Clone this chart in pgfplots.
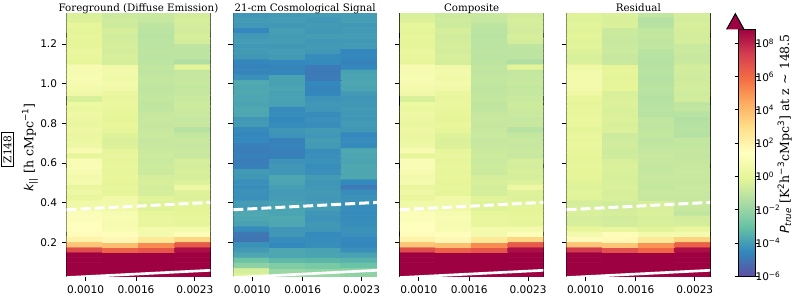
\documentclass[border=0pt]{standalone}
\usepackage{fontspec}
\setmainfont{DejaVu Serif}
\setsansfont{DejaVu Sans}
\usepackage{pgfplots}
\usepackage{pgfplotstable}
\pgfplotsset{compat=1.18}

\definecolor{cbmax}{RGB}{158,1,66}

% Foreground (also used for Composite, visually identical)
\pgfplotstableread[row sep=\\]{
x y c\\
0.988 0.0327 8.85\\1.415 0.0327 8.85\\1.842 0.0327 8.85\\2.269 0.0327 8.85\\
0.988 0.0590 8.85\\1.415 0.0590 8.85\\1.842 0.0590 8.85\\2.269 0.0590 8.85\\
0.988 0.0853 8.85\\1.415 0.0853 8.85\\1.842 0.0853 8.85\\2.269 0.0853 8.85\\
0.988 0.1116 8.85\\1.415 0.1116 8.85\\1.842 0.1116 8.85\\2.269 0.1116 8.85\\
0.988 0.1379 8.85\\1.415 0.1379 8.85\\1.842 0.1379 8.85\\2.269 0.1379 8.85\\
0.988 0.1642 6.9\\1.415 0.1642 6.3\\1.842 0.1642 6.6\\2.269 0.1642 8.5\\
0.988 0.1905 3.7\\1.415 0.1905 3.9\\1.842 0.1905 5.2\\2.269 0.1905 6.5\\
0.988 0.2168 2.05\\1.415 0.2168 1.75\\1.842 0.2168 2.5\\2.269 0.2168 3.2\\
0.988 0.2431 1.55\\1.415 0.2431 1.5\\1.842 0.2431 0.75\\2.269 0.2431 1.2\\
0.988 0.2694 1.45\\1.415 0.2694 0.95\\1.842 0.2694 0.7\\2.269 0.2694 0.7\\
0.988 0.2957 1.35\\1.415 0.2957 0.9\\1.842 0.2957 0.1\\2.269 0.2957 0.0\\
0.988 0.3220 1.2\\1.415 0.3220 0.95\\1.842 0.3220 0.15\\2.269 0.3220 0.05\\
0.988 0.3483 1.15\\1.415 0.3483 0.85\\1.842 0.3483 0.05\\2.269 0.3483 -0.05\\
0.988 0.3746 0.6\\1.415 0.3746 0.6\\1.842 0.3746 -0.2\\2.269 0.3746 -0.1\\
0.988 0.4009 0.55\\1.415 0.4009 0.55\\1.842 0.4009 -0.25\\2.269 0.4009 -0.15\\
0.988 0.4272 0.1\\1.415 0.4272 0.6\\1.842 0.4272 -0.15\\2.269 0.4272 -0.3\\
0.988 0.4535 0.4\\1.415 0.4535 0.0\\1.842 0.4535 -0.5\\2.269 0.4535 -0.25\\
0.988 0.4798 0.15\\1.415 0.4798 0.05\\1.842 0.4798 -0.55\\2.269 0.4798 0.4\\
0.988 0.5061 0.8\\1.415 0.5061 -0.05\\1.842 0.5061 -0.45\\2.269 0.5061 -0.3\\
0.988 0.5324 0.75\\1.415 0.5324 0.1\\1.842 0.5324 -0.5\\2.269 0.5324 -0.5\\
0.988 0.5587 0.85\\1.415 0.5587 0.05\\1.842 0.5587 -0.75\\2.269 0.5587 -0.45\\
0.988 0.5850 1.0\\1.415 0.5850 0.1\\1.842 0.5850 -0.7\\2.269 0.5850 -0.55\\
0.988 0.6113 1.05\\1.415 0.6113 0.0\\1.842 0.6113 -0.8\\2.269 0.6113 -0.5\\
0.988 0.6376 0.05\\1.415 0.6376 0.15\\1.842 0.6376 -0.7\\2.269 0.6376 -0.85\\
0.988 0.6639 0.9\\1.415 0.6639 0.05\\1.842 0.6639 -0.75\\2.269 0.6639 -0.8\\
0.988 0.6902 0.4\\1.415 0.6902 -0.3\\1.842 0.6902 -0.85\\2.269 0.6902 -0.9\\
0.988 0.7165 0.3\\1.415 0.7165 -0.35\\1.842 0.7165 -0.9\\2.269 0.7165 -0.85\\
0.988 0.7428 0.25\\1.415 0.7428 -0.25\\1.842 0.7428 -0.8\\2.269 0.7428 -0.95\\
0.988 0.7691 0.4\\1.415 0.7691 0.0\\1.842 0.7691 -0.85\\2.269 0.7691 -1.25\\
0.988 0.7954 0.2\\1.415 0.7954 0.1\\1.842 0.7954 -0.9\\2.269 0.7954 -0.85\\
0.988 0.8217 0.3\\1.415 0.8217 -0.05\\1.842 0.8217 -0.85\\2.269 0.8217 -0.9\\
0.988 0.8480 0.45\\1.415 0.8480 0.05\\1.842 0.8480 -0.9\\2.269 0.8480 -0.8\\
0.988 0.8743 0.2\\1.415 0.8743 0.1\\1.842 0.8743 -1.0\\2.269 0.8743 -0.75\\
0.988 0.9006 0.35\\1.415 0.9006 0.2\\1.842 0.9006 -1.05\\2.269 0.9006 -0.7\\
0.988 0.9269 -0.4\\1.415 0.9269 0.15\\1.842 0.9269 -0.95\\2.269 0.9269 -0.8\\
0.988 0.9532 0.6\\1.415 0.9532 0.25\\1.842 0.9532 -1.0\\2.269 0.9532 -0.9\\
0.988 0.9795 0.65\\1.415 0.9795 0.6\\1.842 0.9795 -1.05\\2.269 0.9795 -0.95\\
0.988 1.0058 0.9\\1.415 1.0058 0.65\\1.842 1.0058 -1.0\\2.269 1.0058 -0.85\\
0.988 1.0321 0.95\\1.415 1.0321 0.55\\1.842 1.0321 -0.95\\2.269 1.0321 -0.9\\
0.988 1.0584 0.85\\1.415 1.0584 0.65\\1.842 1.0584 -1.05\\2.269 1.0584 -0.95\\
0.988 1.0847 0.9\\1.415 1.0847 0.6\\1.842 1.0847 -1.0\\2.269 1.0847 -0.1\\
0.988 1.1110 0.05\\1.415 1.1110 -0.5\\1.842 1.1110 -1.1\\2.269 1.1110 -1.4\\
0.988 1.1373 0.1\\1.415 1.1373 -0.45\\1.842 1.1373 -1.15\\2.269 1.1373 -1.1\\
0.988 1.1636 0.2\\1.415 1.1636 -0.55\\1.842 1.1636 -1.1\\2.269 1.1636 -1.1\\
0.988 1.1899 0.0\\1.415 1.1899 -0.5\\1.842 1.1899 -1.15\\2.269 1.1899 -1.05\\
0.988 1.2162 -0.05\\1.415 1.2162 -0.55\\1.842 1.2162 -1.15\\2.269 1.2162 -0.55\\
0.988 1.2425 0.05\\1.415 1.2425 -0.6\\1.842 1.2425 -1.2\\2.269 1.2425 -0.5\\
0.988 1.2688 -0.1\\1.415 1.2688 -0.5\\1.842 1.2688 -1.15\\2.269 1.2688 -0.6\\
0.988 1.2951 0.05\\1.415 1.2951 -0.7\\1.842 1.2951 -1.1\\2.269 1.2951 -0.55\\
0.988 1.3214 -0.3\\1.415 1.3214 -0.65\\1.842 1.3214 -0.9\\2.269 1.3214 -0.5\\
0.988 1.3477 -0.4\\1.415 1.3477 -0.75\\1.842 1.3477 -0.85\\2.269 1.3477 -0.6\\
}\fg

% 21-cm signal
\pgfplotstableread[row sep=\\]{
x y c\\
0.988 0.0327 -0.2\\1.415 0.0327 -1.8\\1.842 0.0327 -2.0\\2.269 0.0327 -2.15\\
0.988 0.0590 -0.5\\1.415 0.0590 -1.9\\1.842 0.0590 -2.05\\2.269 0.0590 -2.2\\
0.988 0.0853 -2.2\\1.415 0.0853 -2.5\\1.842 0.0853 -2.65\\2.269 0.0853 -2.95\\
0.988 0.1116 -2.9\\1.415 0.1116 -3.25\\1.842 0.1116 -3.3\\2.269 0.1116 -3.45\\
0.988 0.1379 -3.75\\1.415 0.1379 -3.75\\1.842 0.1379 -3.8\\2.269 0.1379 -3.85\\
0.988 0.1642 -4.05\\1.415 0.1642 -3.75\\1.842 0.1642 -3.85\\2.269 0.1642 -4.3\\
0.988 0.1905 -4.25\\1.415 0.1905 -4.5\\1.842 0.1905 -4.35\\2.269 0.1905 -4.55\\
0.988 0.2168 -5.0\\1.415 0.2168 -4.4\\1.842 0.2168 -4.4\\2.269 0.2168 -4.5\\
0.988 0.2431 -4.95\\1.415 0.2431 -4.1\\1.842 0.2431 -4.45\\2.269 0.2431 -4.3\\
0.988 0.2694 -4.4\\1.415 0.2694 -4.15\\1.842 0.2694 -4.15\\2.269 0.2694 -4.25\\
0.988 0.2957 -3.85\\1.415 0.2957 -3.75\\1.842 0.2957 -4.1\\2.269 0.2957 -4.35\\
0.988 0.3220 -3.75\\1.415 0.3220 -3.7\\1.842 0.3220 -4.2\\2.269 0.3220 -4.4\\
0.988 0.3483 -3.7\\1.415 0.3483 -3.8\\1.842 0.3483 -4.15\\2.269 0.3483 -4.45\\
0.988 0.3746 -4.05\\1.415 0.3746 -3.8\\1.842 0.3746 -4.0\\2.269 0.3746 -4.4\\
0.988 0.4009 -4.0\\1.415 0.4009 -3.85\\1.842 0.4009 -4.0\\2.269 0.4009 -4.3\\
0.988 0.4272 -4.3\\1.415 0.4272 -4.0\\1.842 0.4272 -4.1\\2.269 0.4272 -4.25\\
0.988 0.4535 -4.25\\1.415 0.4535 -4.05\\1.842 0.4535 -4.05\\2.269 0.4535 -4.35\\
0.988 0.4798 -4.35\\1.415 0.4798 -3.95\\1.842 0.4798 -4.1\\2.269 0.4798 -4.85\\
0.988 0.5061 -4.3\\1.415 0.5061 -3.8\\1.842 0.5061 -4.15\\2.269 0.5061 -4.5\\
0.988 0.5324 -4.1\\1.415 0.5324 -3.75\\1.842 0.5324 -4.05\\2.269 0.5324 -3.7\\
0.988 0.5587 -4.05\\1.415 0.5587 -4.15\\1.842 0.5587 -4.3\\2.269 0.5587 -3.75\\
0.988 0.5850 -4.75\\1.415 0.5850 -4.1\\1.842 0.5850 -4.35\\2.269 0.5850 -3.7\\
0.988 0.6113 -4.8\\1.415 0.6113 -4.2\\1.842 0.6113 -4.25\\2.269 0.6113 -3.8\\
0.988 0.6376 -4.7\\1.415 0.6376 -4.7\\1.842 0.6376 -4.3\\2.269 0.6376 -3.75\\
0.988 0.6639 -4.8\\1.415 0.6639 -4.75\\1.842 0.6639 -4.35\\2.269 0.6639 -3.7\\
0.988 0.6902 -4.75\\1.415 0.6902 -4.65\\1.842 0.6902 -4.05\\2.269 0.6902 -4.45\\
0.988 0.7165 -4.5\\1.415 0.7165 -4.7\\1.842 0.7165 -4.0\\2.269 0.7165 -4.4\\
0.988 0.7428 -4.55\\1.415 0.7428 -4.2\\1.842 0.7428 -4.1\\2.269 0.7428 -4.5\\
0.988 0.7691 -4.45\\1.415 0.7691 -4.15\\1.842 0.7691 -4.05\\2.269 0.7691 -4.1\\
0.988 0.7954 -4.05\\1.415 0.7954 -4.4\\1.842 0.7954 -4.35\\2.269 0.7954 -4.05\\
0.988 0.8217 -4.1\\1.415 0.8217 -4.5\\1.842 0.8217 -4.3\\2.269 0.8217 -4.15\\
0.988 0.8480 -3.75\\1.415 0.8480 -4.35\\1.842 0.8480 -4.4\\2.269 0.8480 -4.1\\
0.988 0.8743 -3.7\\1.415 0.8743 -4.45\\1.842 0.8743 -4.15\\2.269 0.8743 -4.05\\
0.988 0.9006 -3.8\\1.415 0.9006 -3.9\\1.842 0.9006 -4.1\\2.269 0.9006 -4.1\\
0.988 0.9269 -3.75\\1.415 0.9269 -3.85\\1.842 0.9269 -4.2\\2.269 0.9269 -4.15\\
0.988 0.9532 -3.7\\1.415 0.9532 -3.9\\1.842 0.9532 -4.55\\2.269 0.9532 -4.05\\
0.988 0.9795 -3.75\\1.415 0.9795 -3.8\\1.842 0.9795 -4.6\\2.269 0.9795 -3.8\\
0.988 1.0058 -3.65\\1.415 1.0058 -3.9\\1.842 1.0058 -4.5\\2.269 1.0058 -3.75\\
0.988 1.0321 -4.3\\1.415 1.0321 -3.85\\1.842 1.0321 -4.85\\2.269 1.0321 -3.8\\
0.988 1.0584 -4.6\\1.415 1.0584 -4.55\\1.842 1.0584 -4.9\\2.269 1.0584 -3.85\\
0.988 1.0847 -4.65\\1.415 1.0847 -4.6\\1.842 1.0847 -4.85\\2.269 1.0847 -4.55\\
0.988 1.1110 -4.55\\1.415 1.1110 -4.5\\1.842 1.1110 -4.45\\2.269 1.1110 -4.65\\
0.988 1.1373 -4.1\\1.415 1.1373 -4.05\\1.842 1.1373 -4.4\\2.269 1.1373 -4.5\\
0.988 1.1636 -4.05\\1.415 1.1636 -4.0\\1.842 1.1636 -4.1\\2.269 1.1636 -4.55\\
0.988 1.1899 -4.1\\1.415 1.1899 -4.1\\1.842 1.1899 -4.05\\2.269 1.1899 -4.05\\
0.988 1.2162 -4.0\\1.415 1.2162 -4.0\\1.842 1.2162 -4.1\\2.269 1.2162 -4.1\\
0.988 1.2425 -4.1\\1.415 1.2425 -4.05\\1.842 1.2425 -4.0\\2.269 1.2425 -4.0\\
0.988 1.2688 -4.5\\1.415 1.2688 -3.95\\1.842 1.2688 -4.1\\2.269 1.2688 -4.05\\
0.988 1.2951 -4.1\\1.415 1.2951 -4.1\\1.842 1.2951 -4.05\\2.269 1.2951 -4.1\\
0.988 1.3214 -4.05\\1.415 1.3214 -4.0\\1.842 1.3214 -4.1\\2.269 1.3214 -3.95\\
0.988 1.3477 -4.15\\1.415 1.3477 -4.05\\1.842 1.3477 -4.0\\2.269 1.3477 -4.0\\
}\sig

% Residual
\pgfplotstableread[row sep=\\]{
x y c\\
0.988 0.0327 8.85\\1.415 0.0327 8.85\\1.842 0.0327 8.85\\2.269 0.0327 8.85\\
0.988 0.0590 8.85\\1.415 0.0590 8.85\\1.842 0.0590 8.85\\2.269 0.0590 8.85\\
0.988 0.0853 8.85\\1.415 0.0853 8.85\\1.842 0.0853 8.85\\2.269 0.0853 8.85\\
0.988 0.1116 8.85\\1.415 0.1116 8.85\\1.842 0.1116 8.85\\2.269 0.1116 8.85\\
0.988 0.1379 8.85\\1.415 0.1379 8.85\\1.842 0.1379 8.85\\2.269 0.1379 8.85\\
0.988 0.1642 7.45\\1.415 0.1642 6.8\\1.842 0.1642 6.1\\2.269 0.1642 8.5\\
0.988 0.1905 3.7\\1.415 0.1905 3.7\\1.842 0.1905 5.0\\2.269 0.1905 6.3\\
0.988 0.2168 1.55\\1.415 0.2168 1.7\\1.842 0.2168 2.5\\2.269 0.2168 3.3\\
0.988 0.2431 0.75\\1.415 0.2431 1.2\\1.842 0.2431 0.75\\2.269 0.2431 0.75\\
0.988 0.2694 0.1\\1.415 0.2694 0.15\\1.842 0.2694 -0.15\\2.269 0.2694 0.2\\
0.988 0.2957 -0.45\\1.415 0.2957 -0.55\\1.842 0.2957 -0.4\\2.269 0.2957 -0.5\\
0.988 0.3220 -0.5\\1.415 0.3220 -0.6\\1.842 0.3220 -0.45\\2.269 0.3220 -0.55\\
0.988 0.3483 -0.4\\1.415 0.3483 -0.5\\1.842 0.3483 -0.35\\2.269 0.3483 -1.0\\
0.988 0.3746 -0.45\\1.415 0.3746 -0.55\\1.842 0.3746 -0.4\\2.269 0.3746 -0.85\\
0.988 0.4009 -0.5\\1.415 0.4009 -0.6\\1.842 0.4009 -0.45\\2.269 0.4009 -0.8\\
0.988 0.4272 -0.2\\1.415 0.4272 -0.4\\1.842 0.4272 -0.9\\2.269 0.4272 -0.9\\
0.988 0.4535 -0.15\\1.415 0.4535 -0.45\\1.842 0.4535 -0.85\\2.269 0.4535 -0.85\\
0.988 0.4798 -0.25\\1.415 0.4798 -0.35\\1.842 0.4798 -0.95\\2.269 0.4798 -0.8\\
0.988 0.5061 -0.2\\1.415 0.5061 -0.4\\1.842 0.5061 -0.9\\2.269 0.5061 -0.9\\
0.988 0.5324 0.0\\1.415 0.5324 -0.45\\1.842 0.5324 -0.85\\2.269 0.5324 -0.85\\
0.988 0.5587 -0.05\\1.415 0.5587 -0.4\\1.842 0.5587 -0.9\\2.269 0.5587 -0.8\\
0.988 0.5850 0.05\\1.415 0.5850 -0.35\\1.842 0.5850 -0.95\\2.269 0.5850 -0.85\\
0.988 0.6113 0.0\\1.415 0.6113 -0.45\\1.842 0.6113 -0.9\\2.269 0.6113 -0.9\\
0.988 0.6376 -0.05\\1.415 0.6376 -0.65\\1.842 0.6376 -0.85\\2.269 0.6376 -0.95\\
0.988 0.6639 0.1\\1.415 0.6639 -0.7\\1.842 0.6639 -0.9\\2.269 0.6639 -0.9\\
0.988 0.6902 0.2\\1.415 0.6902 -0.6\\1.842 0.6902 -1.0\\2.269 0.6902 -1.0\\
0.988 0.7165 0.05\\1.415 0.7165 -0.65\\1.842 0.7165 -1.05\\2.269 0.7165 -0.95\\
0.988 0.7428 0.15\\1.415 0.7428 -0.7\\1.842 0.7428 -0.95\\2.269 0.7428 -1.3\\
0.988 0.7691 -0.1\\1.415 0.7691 -0.35\\1.842 0.7691 -1.0\\2.269 0.7691 -1.25\\
0.988 0.7954 0.1\\1.415 0.7954 -0.4\\1.842 0.7954 -1.05\\2.269 0.7954 -1.3\\
0.988 0.8217 0.2\\1.415 0.8217 -0.3\\1.842 0.8217 -1.0\\2.269 0.8217 -1.35\\
0.988 0.8480 0.05\\1.415 0.8480 -0.35\\1.842 0.8480 -1.25\\2.269 0.8480 -1.25\\
0.988 0.8743 0.15\\1.415 0.8743 -0.4\\1.842 0.8743 -1.2\\2.269 0.8743 -1.0\\
0.988 0.9006 0.0\\1.415 0.9006 -0.3\\1.842 0.9006 -1.25\\2.269 0.9006 -1.05\\
0.988 0.9269 0.1\\1.415 0.9269 -0.35\\1.842 0.9269 -1.3\\2.269 0.9269 -0.6\\
0.988 0.9532 0.45\\1.415 0.9532 -0.4\\1.842 0.9532 -1.25\\2.269 0.9532 -0.65\\
0.988 0.9795 0.7\\1.415 0.9795 -0.05\\1.842 0.9795 -1.2\\2.269 0.9795 -0.55\\
0.988 1.0058 0.75\\1.415 1.0058 0.0\\1.842 1.0058 -1.25\\2.269 1.0058 -0.6\\
0.988 1.0321 0.7\\1.415 1.0321 -0.1\\1.842 1.0321 -1.3\\2.269 1.0321 -0.65\\
0.988 1.0584 0.65\\1.415 1.0584 0.05\\1.842 1.0584 -1.2\\2.269 1.0584 -0.6\\
0.988 1.0847 0.45\\1.415 1.0847 -0.05\\1.842 1.0847 -1.25\\2.269 1.0847 -0.55\\
0.988 1.1110 -0.35\\1.415 1.1110 -0.8\\1.842 1.1110 -1.3\\2.269 1.1110 -0.8\\
0.988 1.1373 -0.4\\1.415 1.1373 -0.85\\1.842 1.1373 -1.25\\2.269 1.1373 -0.85\\
0.988 1.1636 -0.3\\1.415 1.1636 -0.75\\1.842 1.1636 -1.2\\2.269 1.1636 -0.75\\
0.988 1.1899 -0.15\\1.415 1.1899 -0.8\\1.842 1.1899 -1.0\\2.269 1.1899 -0.8\\
0.988 1.2162 -0.2\\1.415 1.2162 -0.85\\1.842 1.2162 -1.05\\2.269 1.2162 -0.5\\
0.988 1.2425 -0.1\\1.415 1.2425 -0.8\\1.842 1.2425 -0.95\\2.269 1.2425 -0.55\\
0.988 1.2688 -0.2\\1.415 1.2688 -0.75\\1.842 1.2688 -1.0\\2.269 1.2688 -0.5\\
0.988 1.2951 -0.15\\1.415 1.2951 -0.35\\1.842 1.2951 -1.25\\2.269 1.2951 -0.45\\
0.988 1.3214 -0.25\\1.415 1.3214 -0.4\\1.842 1.3214 -1.3\\2.269 1.3214 -0.55\\
0.988 1.3477 -0.2\\1.415 1.3477 -0.35\\1.842 1.3477 -1.0\\2.269 1.3477 -0.5\\
}\res

\pgfplotsset{
  colormap={spectralr}{rgb255=(94,79,162) rgb255=(50,136,189) rgb255=(102,194,165) rgb255=(171,221,164) rgb255=(230,245,152) rgb255=(255,255,191) rgb255=(254,224,139) rgb255=(253,174,97) rgb255=(244,109,67) rgb255=(213,62,79) rgb255=(158,1,66)},
  heat/.style={
    scale only axis, width=107.7pt, height=196.9pt,
    xmin=0.775, xmax=2.483, ymin=0.03, ymax=1.352,
    xtick={1.0,1.6,2.3}, xticklabels={0.0010,0.0016,0.0023},
    ytick={0.2,0.4,0.6,0.8,1.0,1.2},
    tick align=outside, tick pos=left,
    major tick length=3.7pt,
    tick style={black, line width=0.6pt},
    axis line style={black, line width=0.75pt},
    point meta min=-6, point meta max=8.84,
    colormap name=spectralr,
    tick label style={font=\sffamily\fontsize{7.9}{9}\selectfont},
    /pgf/number format/assume math mode=true,
    yticklabel style={/pgf/number format/fixed, /pgf/number format/fixed zerofill, /pgf/number format/precision=1},
    title style={font=\fontsize{7.7}{9}\selectfont, anchor=base, at={(0.5,1)}, yshift=-4pt, inner sep=0pt},
  },
  wedge/.style={white, line width=2.25pt, dash pattern=on 7.5pt off 3pt},
  horiz/.style={white, line width=2pt},
}

\begin{document}
\begin{tikzpicture}
\useasboundingbox (0,0) rectangle (594.75pt,223.5pt);

\begin{axis}[heat, at={(50pt,16.3pt)}, anchor=south west, title={Foreground (Diffuse Emission)}]
\addplot[matrix plot*, mesh/cols=4, point meta=explicit] table[x=x,y=y,meta=c]{\fg};
\addplot[wedge] coordinates {(0.775,0.365) (2.483,0.402)};
\addplot[horiz] coordinates {(0.775,0.0235) (2.483,0.060)};
\end{axis}

\begin{axis}[heat, at={(175pt,16.3pt)}, anchor=south west, yticklabels={}, title={21-cm Cosmological Signal}]
\addplot[matrix plot*, mesh/cols=4, point meta=explicit] table[x=x,y=y,meta=c]{\sig};
\addplot[wedge] coordinates {(0.775,0.365) (2.483,0.402)};
\addplot[horiz] coordinates {(0.775,0.0235) (2.483,0.060)};
\end{axis}

\begin{axis}[heat, at={(299.9pt,16.3pt)}, anchor=south west, yticklabels={}, title={Composite}]
\addplot[matrix plot*, mesh/cols=4, point meta=explicit] table[x=x,y=y,meta=c]{\fg};
\addplot[wedge] coordinates {(0.775,0.365) (2.483,0.402)};
\addplot[horiz] coordinates {(0.775,0.0235) (2.483,0.060)};
\end{axis}

\begin{axis}[heat, at={(424.9pt,16.3pt)}, anchor=south west, yticklabels={}, title={Residual},
  colorbar,
  colorbar style={
    scale only axis, width=13pt, height=185.2pt,
    at={(parent axis.south east)}, anchor=south west, xshift=12.4pt, yshift=0pt,
    ytick={-6,-4,-2,0,2,4,6,8},
    yticklabels={10\textsuperscript{−6},10\textsuperscript{−4},10\textsuperscript{−2},10\textsuperscript{0},10\textsuperscript{2},10\textsuperscript{4},10\textsuperscript{6},10\textsuperscript{8}},
    tick align=outside, major tick length=2.6pt,
    tick style={black, line width=0.6pt},
    axis line style={black, line width=0.75pt},
    yticklabel style={font=\sffamily\fontsize{7.9}{9}\selectfont, xshift=-6pt},
  }]
\addplot[matrix plot*, mesh/cols=4, point meta=explicit] table[x=x,y=y,meta=c]{\res};
\addplot[wedge] coordinates {(0.775,0.365) (2.483,0.402)};
\addplot[horiz] coordinates {(0.775,0.0235) (2.483,0.060)};
\end{axis}

% colorbar "extend max" triangle
\fill[cbmax] (545pt,201.5pt) -- (551.5pt,213.2pt) -- (558pt,201.5pt) -- cycle;
\draw[black, line width=0.75pt] (545pt,201.5pt) -- (551.5pt,213.2pt) -- (558pt,201.5pt);

% y label and box
\node[rotate=90, font=\fontsize{9.4}{11}\selectfont, inner sep=0pt] at (22.5pt,113pt)
  {{\sffamily\itshape k}\textsubscript{\sffamily ||} [h cMpc\textsuperscript{\sffamily −1}]};
\node[rotate=90, draw=black, line width=0.5pt, font=\fontsize{8}{9}\selectfont, inner xsep=2.5pt, inner ysep=1.6pt] at (5.6pt,111.5pt) {Z148};

% colorbar label
\node[rotate=90, font=\fontsize{9.4}{11}\selectfont, inner sep=0pt] at (588.5pt,123pt)
  {{\sffamily\itshape P\textsubscript{true}} [K\textsuperscript{\sffamily 2}h\textsuperscript{\sffamily −3}cMpc\textsuperscript{\sffamily 3}] at z \textasciitilde{} 148.5};
\end{tikzpicture}
\end{document}
